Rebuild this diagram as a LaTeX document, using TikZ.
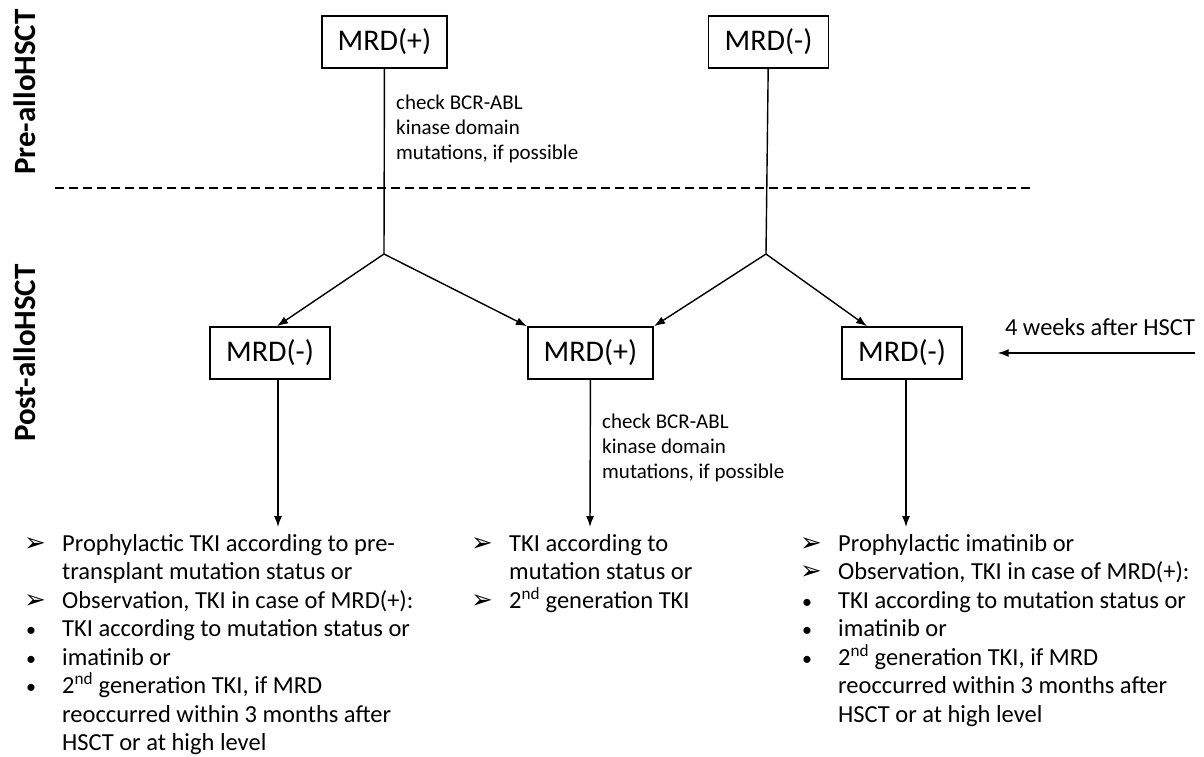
\documentclass[tikz,border=0pt]{standalone}
\usepackage{fontspec}
\setmainfont{Carlito}
\newfontfamily\dejavu{DejaVu Sans}
\usetikzlibrary{arrows.meta}

\newcommand{\arrowitem}{\makebox[38pt][l]{\raisebox{0pt}[0pt][0pt]{\dejavu\fontsize{26}{26}\selectfont ➢}}}
\newcommand{\dotitem}{\makebox[38pt][l]{\hspace*{2pt}{\fontsize{20}{20}\selectfont •}}}
\newcommand{\noitem}{\hspace*{38pt}}

\tikzset{
  mrd/.style={draw, line width=1.6pt, inner xsep=16pt, minimum height=52pt, font=\fontsize{30}{36}\selectfont},
  side/.style={rotate=90, font=\bfseries\fontsize{31}{36}\selectfont},
  note/.style={align=left, anchor=west, inner sep=0pt, font=\fontsize{21}{25}\selectfont},
  plan/.style={align=left, anchor=north west, inner sep=0pt, font=\fontsize{24.5}{28.5}\selectfont},
  flow/.style={line width=1.4pt, -{Latex[length=11pt,width=8pt]}},
}

\begin{document}
\begin{tikzpicture}[x=1pt,y=-1pt]
\useasboundingbox (0,0) rectangle (1204,756);

\node[side] (pre) at (25,92){Pre-alloHSCT};
\node[side] (post) at (25,353){Post-alloHSCT};

\node[mrd] (1) at (384.5,42){MRD(+)};
\node[mrd] (2) at (768.5,42){MRD(-)};
\node[mrd] (3) at (270,353){MRD(-)};
\node[mrd] (4) at (590.5,353){MRD(+)};
\node[mrd] (5) at (902,353){MRD(-)};

\coordinate (a) at (384,254);
\coordinate (b) at (766,254);
\coordinate (lt) at (278,527);
\coordinate (mt) at (590,527);
\coordinate (rt) at (906,527);
\coordinate (wend) at (1195,353);

\draw[line width=1.5pt, dash pattern=on 9pt off 5pt] (55,188) -- (1033,188);

\node[note] (c1) at (396,129){check BCR-ABL\\kinase domain\\mutations, if possible};
\node[note] (c2) at (602,448){check BCR-ABL\\kinase domain\\mutations, if possible};
\node[font=\fontsize{24.5}{28.5}\selectfont, inner sep=0pt] (w) at (1100,327){4 weeks after HSCT};

\draw[line width=1.4pt] (1) -- (a);
\draw[line width=1.4pt] (2) -- (b);
\draw[flow] (a) -- ([xshift=7pt]3.north);
\draw[flow] (a) -- (4.north west);
\draw[flow] (b) -- (4.north east);
\draw[flow] (b) -- ([xshift=-35pt]5.north);
\draw[flow] ([xshift=8pt]3.south) -- (lt);
\draw[flow] (4) -- (mt);
\draw[flow] ([xshift=4pt]5.south) -- (rt);
\draw[flow] (wend) -- ([xshift=35pt]5.east);

\node[plan] (6) at (24,534){\arrowitem Prophylactic TKI according to pre-\\
  \noitem transplant mutation status or\\
  \arrowitem Observation, TKI in case of MRD(+):\\
  \dotitem TKI according to mutation status or\\
  \dotitem imatinib or\\
  \dotitem 2\textsuperscript{nd} generation TKI, if MRD\\
  \noitem reoccurred within 3 months after\\
  \noitem HSCT or at high level};
\node[plan] (7) at (471,534){\arrowitem TKI according to\\
  \noitem mutation status or\\
  \arrowitem 2\textsuperscript{nd} generation TKI};
\node[plan] (8) at (800,534){\arrowitem Prophylactic imatinib or\\
  \arrowitem Observation, TKI in case of MRD(+):\\
  \dotitem TKI according to mutation status or\\
  \dotitem imatinib or\\
  \dotitem 2\textsuperscript{nd} generation TKI, if MRD\\
  \noitem reoccurred within 3 months after\\
  \noitem HSCT or at high level};

\end{tikzpicture}
\end{document}
